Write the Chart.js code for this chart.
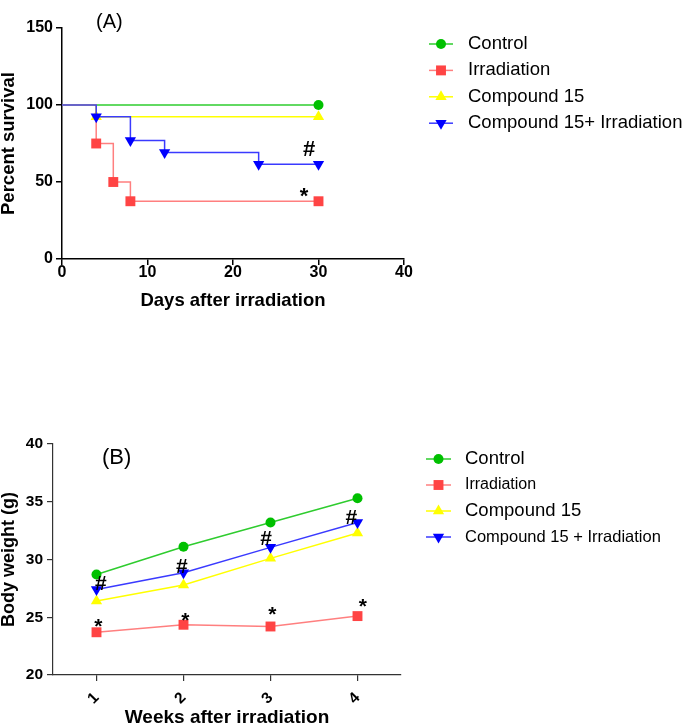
<!DOCTYPE html>
<html>
<head>
<meta charset="utf-8">
<script src="https://cdn.jsdelivr.net/npm/chart.js@4.4.1/dist/chart.umd.min.js"></script>
<style>
  html, body { margin: 0; padding: 0; background: #fff; }
  body { width: 685px; height: 727px; position: relative; overflow: hidden; }
  canvas { position: absolute; left: 0; }
  #survivalChart { top: 0; }
  #weightChart { top: 420px; }
</style>
</head>
<body>
<canvas id="survivalChart" width="685" height="320"></canvas>
<canvas id="weightChart" width="685" height="307"></canvas>
<script>
// (A) survival, Kaplan-Meier steps
const groupsA = ["Control", "Irradiation", "Compound 15", "Compound 15+ Irradiation"];
const controlDays = [0, 30];
const controlSurv = [100, 100];
const irrDays = [0, 4, 6, 8, 30];
const irrSurv = [100, 75, 50, 37.5, 37.5];
const cpdDays = [0, 4, 30];
const cpdSurv = [100, 92.3, 92.3];
const comboDays = [0, 4, 8, 12, 23, 30];
const comboSurv = [100, 92.3, 76.9, 69.2, 61.5, 61.5];
const survHash = [[28.9, 72]];
const survStar = [[28.3, 43.5]];

// (B) body weight
const groupsB = ["Control", "Irradiation", "Compound 15", "Compound 15 + Irradiation"];
const weeks = [1, 2, 3, 4];
const controlWt = [28.7, 31.1, 33.2, 35.3];
const irrWt = [23.7, 24.35, 24.2, 25.1];
const cpdWt = [26.4, 27.8, 30.1, 32.3];
const comboWt = [27.4, 28.85, 31.05, 33.2];
const wtHash = [[1.05, 28.0], [1.98, 29.4], [2.95, 31.9], [3.93, 33.7]];
const wtStar = [[1.02, 24.5], [2.02, 25.05], [3.02, 25.5], [4.06, 26.2]];

const FONT = "'Liberation Sans', Arial, sans-serif";

const looks = [
  { line: "#2ECC2E", fill: "#00C000", shape: "circle", r: 5, rot: 0 },
  { line: "#FF7F7F", fill: "#FF4444", shape: "rect", r: 7, rot: 0 },
  { line: "#FFFF00", fill: "#FFFF00", shape: "triangle", r: 6.5, rot: 0 },
  { line: "#3A3AFF", fill: "#0000FF", shape: "triangle", r: 6.5, rot: 180 }
];

function drawMarker(ctx, look, x, y) {
  ctx.fillStyle = look.fill;
  ctx.beginPath();
  if (look.shape === "circle") {
    ctx.arc(x, y, look.r, 0, Math.PI * 2);
  } else if (look.shape === "rect") {
    const s = look.r * Math.SQRT1_2;
    ctx.rect(x - s, y - s, 2 * s, 2 * s);
  } else {
    let rad = look.rot * Math.PI / 180;
    ctx.moveTo(x + Math.sin(rad) * look.r, y - Math.cos(rad) * look.r);
    rad += Math.PI * 2 / 3;
    ctx.lineTo(x + Math.sin(rad) * look.r, y - Math.cos(rad) * look.r);
    rad += Math.PI * 2 / 3;
    ctx.lineTo(x + Math.sin(rad) * look.r, y - Math.cos(rad) * look.r);
    ctx.closePath();
  }
  ctx.fill();
}

const sideLegend = {
  id: "sideLegend",
  afterDraw(chart, args, opts) {
    const ctx = chart.ctx;
    ctx.save();
    chart.data.datasets.forEach((ds, i) => {
      const y = opts.top + i * opts.gap;
      ctx.strokeStyle = looks[i].line;
      ctx.lineWidth = 1.5;
      ctx.beginPath();
      ctx.moveTo(opts.x, y);
      ctx.lineTo(opts.x + opts.len, y);
      ctx.stroke();
      drawMarker(ctx, looks[i], opts.x + opts.len / 2, y);
      ctx.fillStyle = "#000";
      ctx.font = opts.sizes[i] + "px " + FONT;
      ctx.textBaseline = "middle";
      ctx.textAlign = "left";
      ctx.fillText(ds.label, opts.textX, y);
    });
    ctx.restore();
  }
};

const panelLabel = {
  id: "panelLabel",
  afterDraw(chart, args, opts) {
    const ctx = chart.ctx;
    ctx.save();
    ctx.font = opts.size + "px " + FONT;
    ctx.fillStyle = "#000";
    ctx.textBaseline = "middle";
    ctx.fillText(opts.text, opts.x, opts.y);
    ctx.restore();
  }
};

// '#' and '*' placed at data coordinates, centred on their ink
const sigMarks = {
  id: "sigMarks",
  afterDatasetsDraw(chart, args, opts) {
    const { ctx, scales } = chart;
    ctx.save();
    ctx.font = "bold " + opts.size + "px " + FONT;
    ctx.fillStyle = "#000";
    ctx.textAlign = "center";
    ctx.textBaseline = "alphabetic";
    opts.sets.forEach(set => {
      const m = ctx.measureText(set.text);
      const shift = (m.actualBoundingBoxAscent - m.actualBoundingBoxDescent) / 2;
      set.at.forEach(p => {
        ctx.fillText(set.text, scales.x.getPixelForValue(p[0]), scales.y.getPixelForValue(p[1]) + shift);
      });
    });
    ctx.restore();
  }
};

function lineSet(label, i, xs, ys, firstHidden) {
  const lk = looks[i];
  return {
    label: label,
    data: xs.map((x, k) => ({ x: x, y: ys[k] })),
    borderColor: lk.line,
    borderWidth: 1.5,
    backgroundColor: lk.fill,
    pointBackgroundColor: lk.fill,
    pointBorderColor: lk.fill,
    pointBorderWidth: 0,
    pointStyle: lk.shape,
    pointRotation: lk.rot,
    pointRadius: c => (firstHidden && c.dataIndex === 0 ? 0 : lk.r),
    order: 3 - i
  };
}

function axis(o) {
  return {
    type: "linear",
    min: o.min,
    max: o.max,
    ticks: {
      stepSize: o.step,
      color: "#000",
      padding: o.pad,
      font: { family: FONT, size: o.tickSize, weight: "bold", lineHeight: 1 },
      minRotation: o.rot || 0,
      maxRotation: o.rot || 0
    },
    grid: { drawOnChartArea: false, drawTicks: true, tickLength: 6, color: o.color, lineWidth: o.width },
    border: { display: true, color: o.color, width: o.width },
    title: {
      display: true,
      text: o.title,
      color: "#000",
      font: { family: FONT, size: o.titleSize, weight: "bold", lineHeight: 1 },
      padding: { top: 0, bottom: o.titlePad }
    },
    afterFit: o.fit,
    afterBuildTicks: o.tickVals ? (s => { s.ticks = o.tickVals.map(v => ({ value: v })); }) : undefined
  };
}

new Chart(document.getElementById("survivalChart"), {
  type: "line",
  data: {
    datasets: [
      Object.assign(lineSet(groupsA[0], 0, controlDays, controlSurv, true), { stepped: "before" }),
      Object.assign(lineSet(groupsA[1], 1, irrDays, irrSurv, true), { stepped: "before" }),
      Object.assign(lineSet(groupsA[2], 2, cpdDays, cpdSurv, true), { stepped: "before" }),
      Object.assign(lineSet(groupsA[3], 3, comboDays, comboSurv, true), { stepped: "before" })
    ]
  },
  options: {
    responsive: false,
    animation: false,
    devicePixelRatio: 1,
    layout: { padding: { top: 28, right: 281, left: 0, bottom: 0 } },
    plugins: {
      legend: { display: false },
      tooltip: { enabled: false },
      sideLegend: { x: 429, len: 24, textX: 468, top: 44, gap: 26.4, sizes: [18.5, 18.5, 18.5, 18.5] },
      panelLabel: { text: "(A)", x: 96, y: 22, size: 20 },
      sigMarks: { size: 22, sets: [{ text: "#", at: survHash }, { text: "*", at: survStar }] }
    },
    scales: {
      x: axis({ min: 0, max: 40, step: 10, pad: 0, tickSize: 16, color: "#000", width: 1.5,
        title: "Days after irradiation", titleSize: 18.5, titlePad: 10,
        fit: s => { s.height = 61; } }),
      y: axis({ min: 0, max: 150, step: 50, pad: 3, tickSize: 16, color: "#000", width: 1.5,
        title: "Percent survival", titleSize: 18.5, titlePad: 0,
        fit: s => { s.width = 62; } })
    }
  },
  plugins: [sideLegend, panelLabel, sigMarks]
});

new Chart(document.getElementById("weightChart"), {
  type: "line",
  data: {
    datasets: [
      lineSet(groupsB[0], 0, weeks, controlWt, false),
      lineSet(groupsB[1], 1, weeks, irrWt, false),
      lineSet(groupsB[2], 2, weeks, cpdWt, false),
      lineSet(groupsB[3], 3, weeks, comboWt, false)
    ]
  },
  options: {
    responsive: false,
    animation: false,
    devicePixelRatio: 1,
    layout: { padding: { top: 24, right: 284, left: 0, bottom: 0 } },
    plugins: {
      legend: { display: false },
      tooltip: { enabled: false },
      sideLegend: { x: 426, len: 25, textX: 465, top: 39, gap: 26, sizes: [18.5, 16, 18.5, 16.5] },
      panelLabel: { text: "(B)", x: 102, y: 38, size: 22 },
      sigMarks: { size: 21, sets: [{ text: "#", at: wtHash }, { text: "*", at: wtStar }] }
    },
    scales: {
      x: axis({ min: 0.5, max: 4.5, pad: 9, tickSize: 15.5, color: "#333", width: 1.2, rot: 45,
        tickVals: weeks, title: "Weeks after irradiation", titleSize: 19, titlePad: 0,
        fit: s => { s.height = 52; } }),
      y: axis({ min: 20, max: 40, step: 5, pad: 4, tickSize: 15.5, color: "#333", width: 1.2,
        title: "Body weight (g)", titleSize: 18, titlePad: 0,
        fit: s => { s.width = 53; } })
    }
  },
  plugins: [sideLegend, panelLabel, sigMarks]
});
</script>
</body>
</html>
